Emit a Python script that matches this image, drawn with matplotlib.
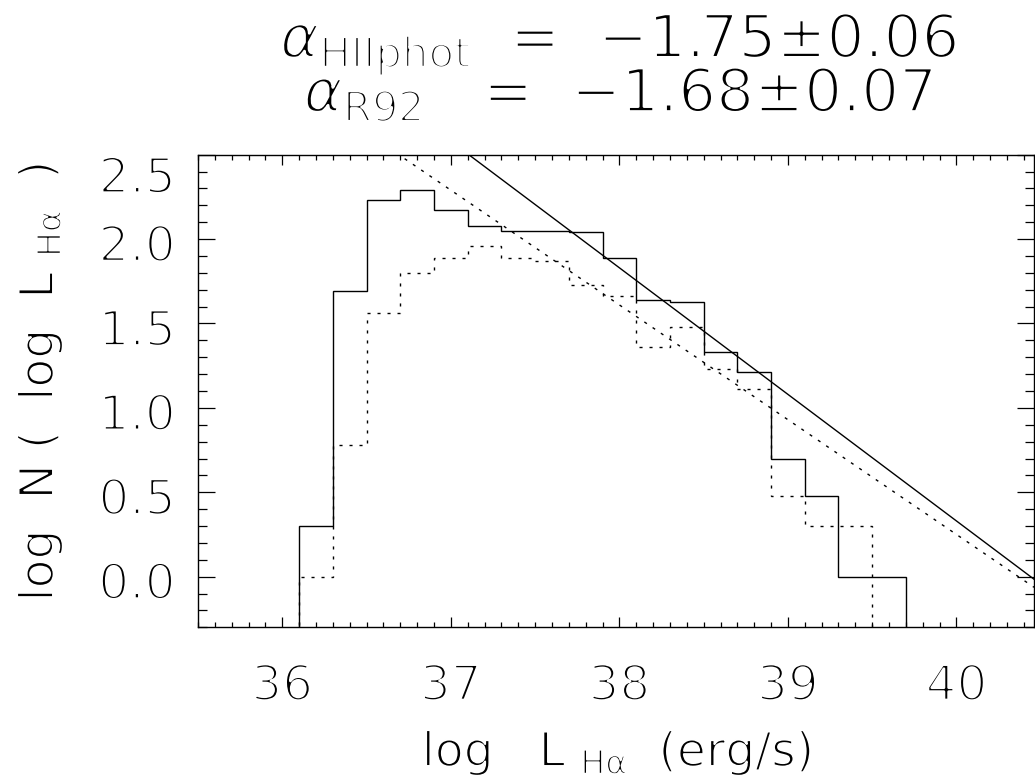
import numpy as np
import matplotlib
matplotlib.use("Agg")
import matplotlib.pyplot as plt
import matplotlib.patheffects as pe
from matplotlib.ticker import MultipleLocator, FormatStrFormatter
from matplotlib.transforms import ScaledTranslation

plt.rcParams['font.family'] = ['DejaVu Sans']
plt.rcParams['mathtext.fontset'] = 'dejavusans'

# histogram bins (log L_Halpha), bin width 0.2 dex
edges_hiiphot = [36.1, 36.3, 36.5, 36.7, 36.9, 37.1, 37.3, 37.5, 37.7, 37.9,
                 38.1, 38.3, 38.5, 38.7, 38.9, 39.1, 39.3, 39.5, 39.7]
logn_hiiphot = [0.30, 1.69, 2.23, 2.29, 2.17, 2.08, 2.05, 2.05, 2.04,
                1.89, 1.64, 1.63, 1.33, 1.21, 0.70, 0.48, 0.00, 0.00]

edges_r92 = [36.1, 36.3, 36.5, 36.7, 36.9, 37.1, 37.3, 37.5, 37.7, 37.9,
             38.1, 38.3, 38.5, 38.7, 38.9, 39.1, 39.3, 39.5]
logn_r92 = [0.00, 0.78, 1.56, 1.80, 1.89, 1.96, 1.89, 1.87, 1.73,
            1.66, 1.36, 1.48, 1.23, 1.11, 0.48, 0.30, 0.30]

# power-law fits: log N = intercept + slope * log L
fit_hiiphot = (30.33, -0.75)
fit_r92 = (27.45, -0.68)

xticks = [36, 37, 38, 39, 40]
yticks = [0.0, 0.5, 1.0, 1.5, 2.0, 2.5]

XLIM = (35.5, 40.46)
YLIM = (-0.3, 2.5)
W, H = 1035, 784
AX_L, AX_R, AX_T, AX_B = 198, 1034, 154.7, 627.3


def thin(lw):
    # white outline eats into the glyphs -> hairline look of the IDL vector font
    return [pe.Stroke(linewidth=lw, foreground='white')]


fig = plt.figure(figsize=(W / 100, H / 100), dpi=100)
ax = fig.add_axes([AX_L / W, 1 - AX_B / H, (AX_R - AX_L) / W, (AX_B - AX_T) / H])

DOT = (0, (2.2, 5.0))
ax.stairs(logn_hiiphot, edges_hiiphot, baseline=-1, color='black', lw=1.0)
ax.stairs(logn_r92, edges_r92, baseline=-1, color='black', lw=1.0, linestyle=DOT)

xf = np.array(XLIM)
ax.plot(xf, fit_hiiphot[0] + fit_hiiphot[1] * xf, color='black', lw=1.0)
ax.plot(xf, fit_r92[0] + fit_r92[1] * xf, color='black', lw=1.0, linestyle=DOT)

ax.set_xlim(*XLIM)
ax.set_ylim(*YLIM)
ax.set_xticks(xticks)
ax.xaxis.set_minor_locator(MultipleLocator(0.1))
ax.set_yticks(yticks)
ax.yaxis.set_minor_locator(MultipleLocator(0.1))
ax.yaxis.set_major_formatter(FormatStrFormatter('%.1f'))

ax.tick_params(axis='both', which='both', direction='in', top=True, right=True,
               width=0.9, labelsize=35, colors='black')
ax.tick_params(axis='x', which='major', length=7.5, pad=25)
ax.tick_params(axis='x', which='minor', length=3.6)
ax.tick_params(axis='y', which='major', length=12.5, pad=16)
ax.tick_params(axis='y', which='minor', length=6.5)
for s in ax.spines.values():
    s.set_linewidth(1.0)

for t in ax.get_xticklabels() + ax.get_yticklabels():
    t.set_path_effects(thin(2.0))

# shift y tick labels slightly down, the top one more (as in the original)
for i, tk in enumerate(ax.yaxis.get_major_ticks()):
    dy = -0.19 if i == 5 else -0.03
    tk.label1.set_transform(tk.label1.get_transform()
                            + ScaledTranslation(0, dy, fig.dpi_scale_trans))

axw, axh = AX_R - AX_L, AX_B - AX_T
xl = ax.set_xlabel('log   L $_{\\rm H\\alpha}$  (erg/s)', fontsize=34, va='baseline')
ax.xaxis.set_label_coords((617 - AX_L) / axw, -(766 - AX_B) / axh)
yl = ax.set_ylabel('log  N (  log  L $_{\\rm H\\alpha}$  )', fontsize=34, va='baseline')
ax.yaxis.set_label_coords((53 - AX_L) / axw, (AX_B - 382) / axh)
xl.set_path_effects(thin(1.4))
yl.set_path_effects(thin(1.4))

# two-line title; the anchor is the baseline of the second line
title = ('$\\alpha_{\\rm HIIphot}$  =  \u22121.75\u00b10.06\n'
         '$\\alpha_{\\rm R92}$   =  \u22121.68\u00b10.07')
tt = fig.text(619 / W, 1 - 112 / H, title, ha='center', va='baseline',
              multialignment='center', linespacing=0.72, fontsize=43)
tt.set_path_effects(thin(2.0))

fig.savefig('out.png', dpi=100)
